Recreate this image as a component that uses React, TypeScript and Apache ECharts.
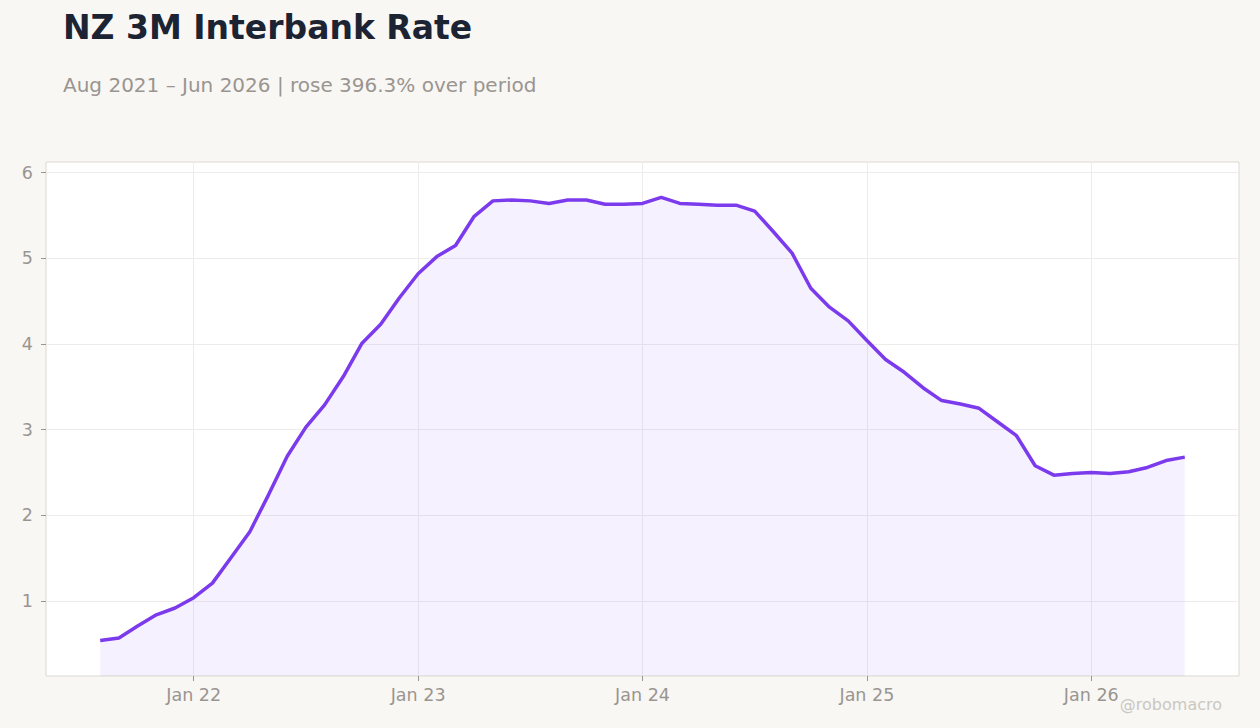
import React, { useEffect, useRef } from 'react';
import * as echarts from 'echarts';

// monthly data, Aug 2021 .. Jun 2026
const baseYear = 2021; // x value 0 = Jan 2021
const startMonth = 7; // Aug 2021
const rates = [
  0.54, 0.57, 0.71, 0.84, 0.92,
  1.04, 1.21, 1.51, 1.81, 2.24, 2.69, 3.03, 3.29, 3.62, 4.01, 4.23, 4.54,
  4.82, 5.02, 5.15, 5.49, 5.67, 5.68, 5.67, 5.64, 5.68, 5.68, 5.63, 5.63,
  5.64, 5.71, 5.64, 5.63, 5.62, 5.62, 5.55, 5.31, 5.06, 4.65, 4.43, 4.27,
  4.04, 3.82, 3.67, 3.49, 3.34, 3.30, 3.25, 3.09, 2.93, 2.58, 2.47, 2.49,
  2.50, 2.49, 2.51, 2.56, 2.64, 2.68,
];
const tickYears = [2022, 2023, 2024, 2025, 2026];
const yTicks = [1, 2, 3, 4, 5, 6];

const titleText = 'NZ 3M Interbank Rate';
const subtitleText = 'Aug 2021 – Jun 2026 | rose 396.3% over period';

const FONT = 'DejaVu Sans';
const LABEL_COLOR = '#9a9590';

function App() {
  const chartRef = useRef(null);

  useEffect(() => {
    document.body.style.margin = '0';
    const chart = echarts.init(chartRef.current, null, { renderer: 'svg' });

    const data = rates.map((v, i) => [startMonth + i, v]);
    const x0 = startMonth;
    const x1 = startMonth + rates.length - 1;
    const xPad = (x1 - x0) * 0.05;
    const yMin = Math.min(...rates);
    const yMax = Math.max(...rates);
    const yPad = (yMax - yMin) * 0.08;
    const janTicks = tickYears.map((y) => (y - baseYear) * 12);

    const options = {
      animation: false,
      backgroundColor: '#f8f7f4',
      title: [
        {
          text: titleText,
          left: 63,
          top: 11,
          padding: 0,
          textStyle: { fontSize: 33, fontWeight: 'bold', color: '#1c2333', fontFamily: FONT },
        },
        {
          text: subtitleText,
          left: 63,
          top: 75,
          padding: 0,
          textStyle: { fontSize: 20, fontWeight: 'normal', color: LABEL_COLOR, fontFamily: FONT },
        },
      ],
      graphic: [
        {
          type: 'text',
          right: 38,
          bottom: 16,
          style: { text: '@robomacro', fontSize: 16, fill: '#cbc7c2', fontFamily: FONT },
        },
      ],
      grid: {
        left: 46,
        right: 21,
        top: 162,
        bottom: 52,
        show: true,
        backgroundColor: '#ffffff',
        borderColor: '#ddd8d0',
        borderWidth: 1,
        outerBoundsMode: 'none',
      },
      xAxis: {
        type: 'value',
        min: x0 - xPad,
        max: x1 + xPad,
        axisLine: { show: false },
        axisTick: { show: true, length: 5, lineStyle: { color: '#999590' }, customValues: janTicks },
        axisLabel: {
          customValues: janTicks,
          color: LABEL_COLOR,
          fontSize: 17.5,
          fontFamily: FONT,
          margin: 10,
          formatter: (val: number) => 'Jan ' + String(baseYear + Math.round(val / 12)).slice(2),
        },
        splitLine: { show: true, lineStyle: { color: '#eeecea', width: 1 } },
      },
      yAxis: {
        type: 'value',
        min: yMin - yPad,
        max: yMax + yPad,
        axisLine: { show: false },
        axisTick: { show: true, length: 5, lineStyle: { color: '#999590' }, customValues: yTicks },
        axisLabel: {
          customValues: yTicks,
          color: LABEL_COLOR,
          fontSize: 17.5,
          fontFamily: FONT,
          margin: 13,
        },
        splitLine: { show: true, lineStyle: { color: '#eeecea', width: 1 } },
      },
      series: [
        {
          name: 'NZ 3M Interbank Rate',
          type: 'line',
          data,
          symbol: 'none',
          lineStyle: { color: '#7c3aed', width: 3.5 },
          areaStyle: { color: 'rgba(124,58,237,0.1)', origin: 'start' },
        },
      ],
    };

    chart.setOption(options);

    return () => {
      chart.dispose();
    };
  }, []);

  return <div ref={chartRef} style={{ width: '1260px', height: '728px' }}></div>;
}

export default App;
